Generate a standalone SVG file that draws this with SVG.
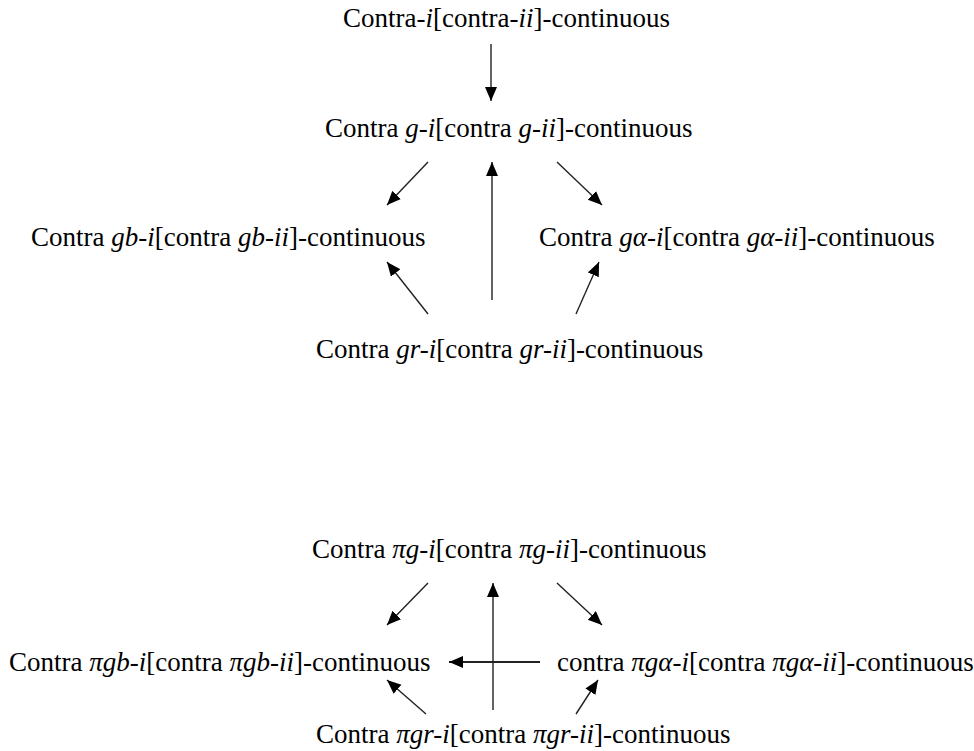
<svg xmlns="http://www.w3.org/2000/svg" width="974" height="751" viewBox="0 0 974 751">
<style>
text{font-family:"Liberation Serif","Times New Roman",serif;font-size:27px;fill:#000}
.it{font-style:italic}
.c{stroke:#222;stroke-width:1.4;fill:none;marker-end:url(#ah)}
.c2{stroke:#222;stroke-width:2.2;fill:none;marker-end:url(#ah)}
</style>
<defs>
<marker id="ah" markerUnits="userSpaceOnUse" markerWidth="16" markerHeight="14" refX="14" refY="6" orient="auto">
<path d="M0,0 L14,6 L0,12 Z" fill="#000"/>
</marker>
</defs>
<rect width="974" height="751" fill="#fff"/>
<g id="n1"><text x="343" y="27">Contra-<tspan class="it">i</tspan>[contra-<tspan class="it">ii</tspan>]-continuous</text></g>
<g id="n2"><text x="325" y="137">Contra <tspan class="it">g-i</tspan>[contra <tspan class="it">g-ii</tspan>]-continuous</text></g>
<g id="n3"><text x="31" y="246">Contra <tspan class="it">gb-i</tspan>[contra <tspan class="it">gb-ii</tspan>]-continuous</text></g>
<g id="n4"><text x="539" y="246">Contra <tspan class="it">gα-i</tspan>[contra <tspan class="it">gα-ii</tspan>]-continuous</text></g>
<g id="n5"><text x="316" y="358">Contra <tspan class="it">gr-i</tspan>[contra <tspan class="it">gr-ii</tspan>]-continuous</text></g>
<g id="n6"><text x="312" y="558">Contra <tspan class="it">πg-i</tspan>[contra <tspan class="it">πg-ii</tspan>]-continuous</text></g>
<g id="n7"><text x="9" y="671">Contra <tspan class="it">πgb-i</tspan>[contra <tspan class="it">πgb-ii</tspan>]-continuous</text></g>
<g id="n8"><text x="557" y="671">contra <tspan class="it">πgα-i</tspan>[contra <tspan class="it">πgα-ii</tspan>]-continuous</text></g>
<g id="n9"><text x="316" y="743">Contra <tspan class="it">πgr-i</tspan>[contra <tspan class="it">πgr-ii</tspan>]-continuous</text></g>
<g id="connectors">
<line class="c" x1="491" y1="44" x2="491" y2="101"/>
<line class="c" x1="428" y1="162" x2="387" y2="205"/>
<line class="c" x1="492" y1="300" x2="492" y2="162"/>
<line class="c" x1="557" y1="162" x2="602" y2="205"/>
<line class="c" x1="428" y1="314" x2="387" y2="262"/>
<line class="c" x1="576" y1="314" x2="599" y2="262"/>
<line class="c" x1="428" y1="583" x2="387" y2="625"/>
<line class="c" x1="493" y1="710" x2="493" y2="583"/>
<line class="c" x1="557" y1="583" x2="602" y2="625"/>
<line class="c2" x1="540" y1="662" x2="449" y2="662"/>
<line class="c" x1="426" y1="714" x2="387" y2="680"/>
<line class="c" x1="576" y1="714" x2="598" y2="680"/>
</g>
</svg>
